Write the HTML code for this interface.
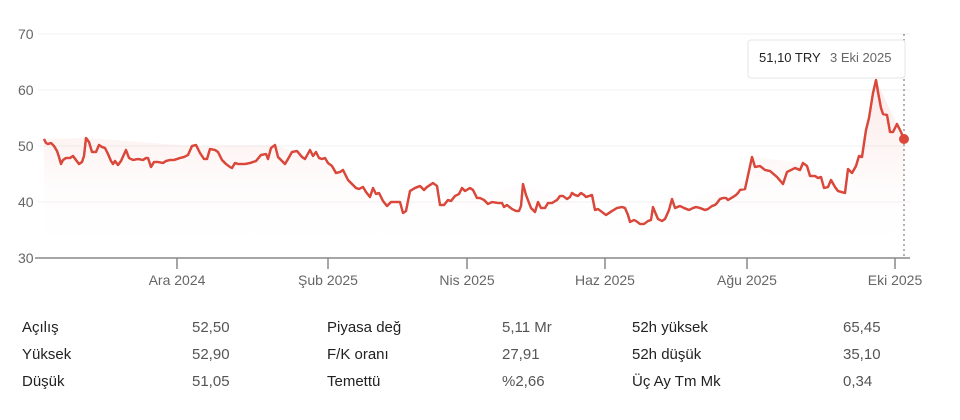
<!DOCTYPE html>
<html><head><meta charset="utf-8"><style>
body{margin:0;width:960px;height:420px;background:#fff;font-family:"Liberation Sans",sans-serif;overflow:hidden}
.t{position:absolute;font-size:15px;color:#222;white-space:nowrap}
.v{color:#555}
</style></head><body>
<svg width="960" height="300" style="position:absolute;left:0;top:0" font-family="Liberation Sans, sans-serif">
<defs><linearGradient id="g" x1="0" y1="0" x2="0" y2="1"><stop offset="0" stop-color="#e0483c" stop-opacity="0.13"/><stop offset="0.6" stop-color="#e0483c" stop-opacity="0.02"/><stop offset="1" stop-color="#fff" stop-opacity="0"/></linearGradient></defs>
<g stroke="#f2f2f2" stroke-width="1">
<line x1="38" y1="34" x2="910" y2="34"/><line x1="38" y1="90" x2="910" y2="90"/><line x1="38" y1="146" x2="910" y2="146"/><line x1="38" y1="202" x2="910" y2="202"/></g>
<g fill="#666" font-size="14"><text x="18" y="39">70</text><text x="18" y="95">60</text><text x="18" y="151">50</text><text x="18" y="207">40</text><text x="18" y="263">30</text></g>
<line x1="35" y1="258" x2="910" y2="258" stroke="#888" stroke-width="1.5"/>
<g stroke="#888" stroke-width="1.5"><line x1="177" y1="258" x2="177" y2="269"/><line x1="328" y1="258" x2="328" y2="269"/><line x1="467" y1="258" x2="467" y2="269"/><line x1="605" y1="258" x2="605" y2="269"/><line x1="747" y1="258" x2="747" y2="269"/><line x1="895" y1="258" x2="895" y2="269"/></g>
<g fill="#666" font-size="14" text-anchor="middle"><text x="177" y="285">Ara 2024</text><text x="328" y="285">Şub 2025</text><text x="467" y="285">Nis 2025</text><text x="605" y="285">Haz 2025</text><text x="747" y="285">Ağu 2025</text><text x="895" y="285">Eki 2025</text></g>
<line x1="904" y1="34" x2="904" y2="258" stroke="#666" stroke-dasharray="2,3"/>
<path id="p" fill="none" stroke="#d9483b" stroke-width="2.3" stroke-linejoin="round" d="M44,139 L46,143 48,144 51,143 54,146 57,151 59,157 61,164 63,160 66,158 70,158 73,156 76,160 79,164 82,162 84,156 86,138 89,142 92,152 96,152 99,145 102,147 105,148 108,154 111,161 113,164 115,161 118,165 121,161 126,150 129,158 133,160 138,159 143,160 146,158 148,158 151,167 154,162 158,162 163,163 166,161 170,160 174,160 180,158 184,157 188,155 192,146 196,145 200,153 204,159 207,159 210,149 215,150 218,152 222,160 226,164 230,167 232,168 235,163 238,164 241,164 245,164 250,163 256,161 261,155 266,154 268,159 271,148 275,145 278,157 282,161 285,164 288,159 292,152 297,151 302,157 305,159 310,150 313,156 316,152 319,158 322,159 325,158 328,163 332,166 336,173 340,172 343,170 348,180 353,185 356,188 359,189 363,187 366,192 370,197 373,188 376,194 379,193 383,201 387,206 391,202 396,202 400,202 403,213 406,211 410,191 415,188 420,186 424,190 427,187 433,183 437,186 440,205 444,205 448,200 451,201 455,196 459,194 462,188 465,191 470,188 473,190 477,198 480,198 484,200 488,204 492,202 498,203 502,203 504,207 507,205 512,209 516,211 519,211 521,206 523,184 526,195 531,208 535,212 538,202 541,208 545,208 548,203 552,203 557,200 560,196 563,196 567,199 570,197 572,193 575,195 578,196 581,193 584,195 586,197 592,195 595,210 598,209 606,215 612,211 617,208 622,207 625,208 628,215 630,222 634,220 636,221 640,224 644,224 648,221 651,220 653,207 655,212 658,219 662,221 665,219 669,210 672,199 675,208 680,206 684,208 689,210 693,208 696,207 700,208 705,210 708,209 712,206 715,205 717,203 720,199 723,198 726,198 728,200 733,197 736,195 738,193 740,190 745,189 747,180 752,157 755,167 760,166 765,170 770,171 777,177 783,184 787,172 795,168 800,170 803,163 807,166 810,176 815,176 818,178 821,177 824,188 828,187 831,180 835,187 838,191 845,193 848,169 852,173 856,166 859,156 862,157 866,130 869,118 873,93 876,80 878,92 881,108 883,114 887,115 890,132 893,132 897,124 901,132 904,139"/>
<path fill="url(#g)" d="M44,139 L86,138 192,146 275,145 328,163 370,197 440,205 523,184 630,222 747,180 752,157 803,163 845,193 859,156 876,80 904,139 L904,258 44,258 Z" opacity="0.9"/>
<use href="#p"/>
<circle cx="904" cy="139" r="5" fill="#d9483b"/>
<rect x="748" y="40" width="157" height="38" rx="3" fill="#fff" stroke="#e4e4e4"/>
<text x="759" y="62" font-size="13" fill="#222">51,10 TRY</text><text x="830" y="62" font-size="13" fill="#666">3 Eki 2025</text>
</svg>
<div class="t" style="left:22px;top:319px">Açılış</div><div class="t v" style="left:192px;top:319px">52,50</div>
<div class="t" style="left:22px;top:346px">Yüksek</div><div class="t v" style="left:192px;top:346px">52,90</div>
<div class="t" style="left:22px;top:373px">Düşük</div><div class="t v" style="left:192px;top:373px">51,05</div>
<div class="t" style="left:327px;top:319px">Piyasa değ</div><div class="t v" style="left:502px;top:319px">5,11 Mr</div>
<div class="t" style="left:327px;top:346px">F/K oranı</div><div class="t v" style="left:502px;top:346px">27,91</div>
<div class="t" style="left:327px;top:373px">Temettü</div><div class="t v" style="left:502px;top:373px">%2,66</div>
<div class="t" style="left:632px;top:319px">52h yüksek</div><div class="t v" style="left:843px;top:319px">65,45</div>
<div class="t" style="left:632px;top:346px">52h düşük</div><div class="t v" style="left:843px;top:346px">35,10</div>
<div class="t" style="left:632px;top:373px">Üç Ay Tm Mk</div><div class="t v" style="left:843px;top:373px">0,34</div>
</body></html>
